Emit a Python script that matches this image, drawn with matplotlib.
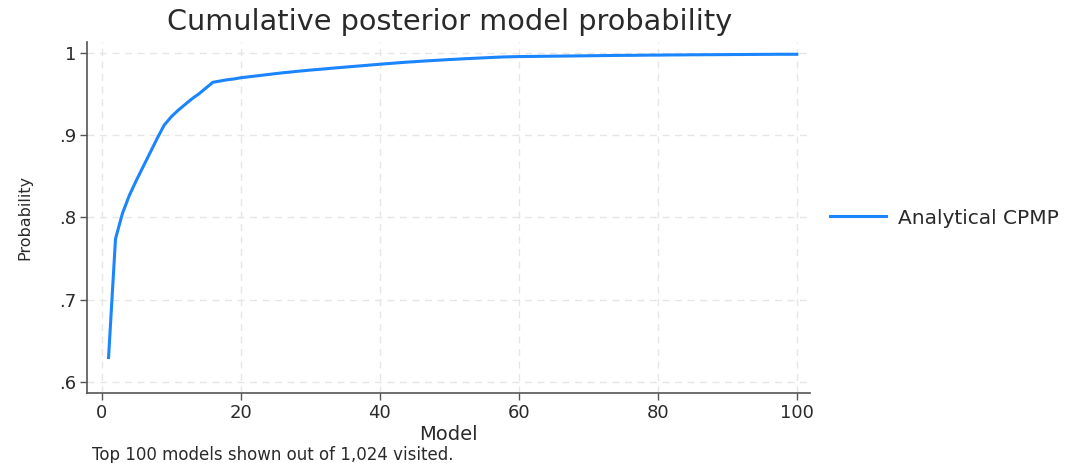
import matplotlib
matplotlib.use("Agg")
import matplotlib.pyplot as plt
from matplotlib.lines import Line2D

plt.rcParams['font.family'] = ['DejaVu Sans']

models = list(range(1, 101))
cpmp = [
    0.630, 0.774, 0.805, 0.827, 0.845, 0.862, 0.879, 0.896, 0.912, 0.922,
    0.930, 0.937, 0.944, 0.950, 0.957, 0.964, 0.9655, 0.967, 0.968, 0.9695,
    0.9705, 0.9715, 0.9725, 0.9735, 0.9745, 0.9755, 0.9763, 0.9772, 0.978, 0.9788,
    0.9795, 0.9802, 0.981, 0.9817, 0.9824, 0.9831, 0.9838, 0.9845, 0.9852, 0.9859,
    0.9866, 0.9872, 0.9879, 0.9885, 0.989, 0.9896, 0.9901, 0.9906, 0.9911, 0.9916,
    0.992, 0.9925, 0.9929, 0.9933, 0.9937, 0.9941, 0.9945, 0.9948, 0.995, 0.9952,
    0.9953, 0.9954, 0.9955, 0.9956, 0.9957, 0.9958, 0.9959, 0.996, 0.9961, 0.9962,
    0.9963, 0.9964, 0.9965, 0.9966, 0.9967, 0.9967, 0.9968, 0.9969, 0.997, 0.997,
    0.9971, 0.9972, 0.9972, 0.9973, 0.9974, 0.9974, 0.9975, 0.9975, 0.9976, 0.9976,
    0.9977, 0.9977, 0.9978, 0.9978, 0.9979, 0.9979, 0.998, 0.998, 0.998, 0.998,
]
xticks = [0, 20, 40, 60, 80, 100]
yticks = [0.6, 0.7, 0.8, 0.9, 1.0]
ytick_labels = [".6", ".7", ".8", ".9", "1"]

TXT = '#2a2a2a'
LINE = '#1A85FF'

fig = plt.figure(figsize=(10.75, 4.63), dpi=100)
ax = fig.add_axes([87/1075, 1 - 393/463, (810-87)/1075, (393-42)/463])

ax.plot(models, cpmp, color=LINE, lw=2.2, solid_joinstyle='round')

ax.set_xlim(-2.1, 101.9)
ax.set_ylim(0.587, 1.0129)
ax.set_xticks(xticks)
ax.set_yticks(yticks)
ax.set_yticklabels(ytick_labels)
ax.grid(True, color='#e6e6e6', linestyle=(0, (5, 4)), lw=1.0)
ax.set_axisbelow(True)
for s in ['top', 'right']:
    ax.spines[s].set_visible(False)
for s in ['left', 'bottom']:
    ax.spines[s].set_color('#555555')
    ax.spines[s].set_linewidth(1.2)
ax.tick_params(axis='both', direction='out', length=5, width=1.0, color='#555555',
               labelsize=13, labelcolor=TXT, pad=3)

ax.set_xlabel('Model', fontsize=14, color=TXT, labelpad=2)
ax.set_ylabel('Probability', fontsize=11.5, color=TXT)
ax.yaxis.set_label_coords((32 - 87) / 723, 0.5)
fig.text(450/1075, 1 - 22/463, 'Cumulative posterior model probability',
         ha='center', va='center', fontsize=20.7, color=TXT)
fig.text(92/1075, 1 - 455/463, 'Top 100 models shown out of 1,024 visited.',
         ha='left', va='center', fontsize=12, color=TXT)

handle = Line2D([0], [0], color=LINE, lw=2.2)
fig.legend([handle], ['Analytical CPMP'], loc='center left',
           bbox_to_anchor=(830/1075, 1 - 218/463), frameon=False,
           fontsize=14.5, handlelength=2.8, handletextpad=0.6,
           borderpad=0.0, borderaxespad=0.0, labelcolor=TXT)

fig.savefig('out.png', dpi=100, facecolor='white')
